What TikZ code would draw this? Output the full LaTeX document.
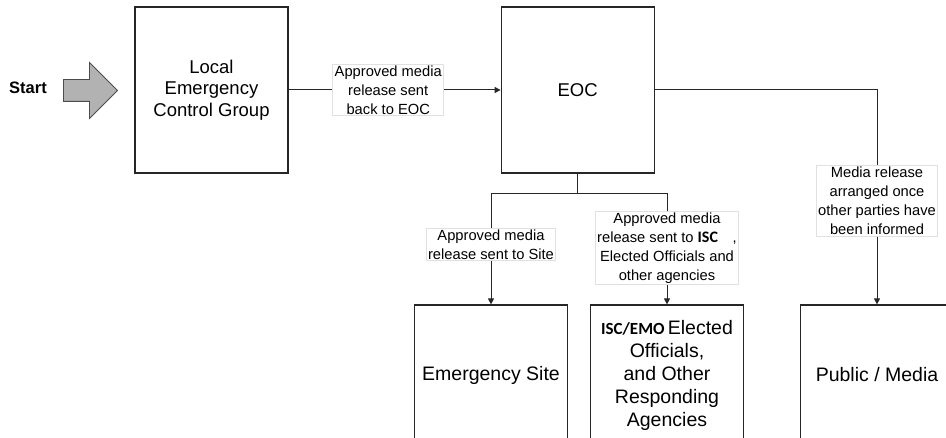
\documentclass[tikz,border=0pt]{standalone}
\usepackage{fontspec}
\setmainfont{Liberation Sans}
\newfontfamily\calibri{Carlito}
\usetikzlibrary{positioning, arrows.meta, shapes.arrows}

\newcommand{\iscfont}[2]{{\calibri\bfseries\fontsize{#1}{18}\selectfont #2}}

\begin{document}
\begin{tikzpicture}[
    x=1pt, y=-1pt,
    box/.style={draw=black!85, line width=1.2pt, minimum width=153pt, align=center},
    topbox/.style={box, minimum height=166pt, font=\fontsize{18.5}{21.5}\selectfont},
    lowbox/.style={box, minimum height=140pt, font=\fontsize{19.5}{23}\selectfont},
    lbl/.style={draw=black!12, fill=white, align=center, inner xsep=2pt, inner ysep=1.5pt, font=\fontsize{14.7}{19}\selectfont},
    arrow/.style={-{Triangle[length=6pt, width=6pt]}, line width=1pt, draw=black!85},
    line/.style={line width=1pt, draw=black!85}
]
\useasboundingbox (0,0) rectangle (946,438);
\clip (0,0) rectangle (946,438);

% Start
\node[font=\bfseries\fontsize{16.5}{20}\selectfont] (start) at (28,88) {Start};
\node[single arrow, draw=black!70, fill=black!30, line width=0.8pt, minimum height=54pt,
      inner ysep=10.5pt, inner xsep=0pt, single arrow head extend=17pt,
      single arrow head indent=0pt] (startarrow) at (85,90.5) {};

% Top row
\node[topbox] (lecg) at (211.5,90) {Local\\Emergency\\Control Group};
\node[topbox, right=212pt of lecg] (eoc) {EOC};

% Bottom row
\node[lowbox] (site) at (491,375) {Emergency Site};
\node[lowbox] (agencies) at (667,375) {\iscfont{17}{ISC/EMO}\,Elected\\Officials,\\and Other\\Responding\\Agencies};
\node[lowbox] (public) at (877,375) {Public / Media};

% Connections
\draw[arrow] (lecg) -- node[lbl, pos=0.47] (lblback) {Approved media\\release sent\\back to EOC} (eoc);

\coordinate[below=20pt of eoc] (split);
\draw[line] (eoc) -- (split);
\draw[arrow] (split) -| node[lbl, pos=0.73] (lblsite) {Approved media\\release sent to Site} (site);
\draw[arrow] (split) -| node[lbl, pos=0.745] (lblagency) {Approved media\\release sent to \iscfont{16}{ISC}\quad,\\Elected Officials and\\other agencies} (agencies);

\draw[arrow] (eoc) -| node[lbl, pos=0.758] (lblpublic) {Media release\\arranged once\\other parties have\\been informed} (public);

\end{tikzpicture}
\end{document}
